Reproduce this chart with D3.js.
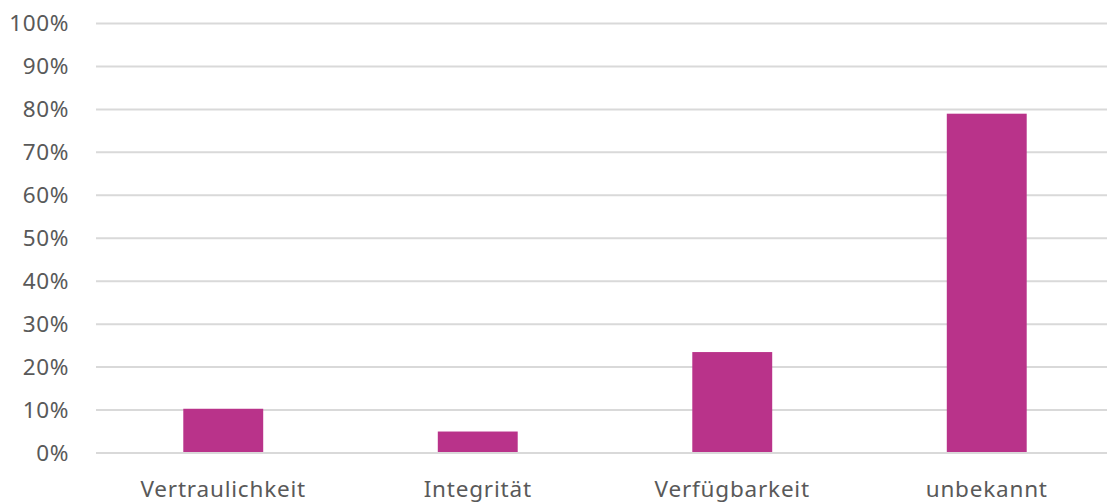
<!DOCTYPE html>
<html><head><meta charset="utf-8">
<script src="https://cdn.jsdelivr.net/npm/d3@7"></script>
<style>body{margin:0;background:#fff;overflow:hidden}</style>
</head><body><svg id="c" width="1107" height="502"></svg>
<script>
const categories = ["Vertraulichkeit", "Integrität", "Verfügbarkeit", "unbekannt"];
const values = [10.3, 5.0, 23.5, 79.0];
const yTicks = [0,10,20,30,40,50,60,70,80,90,100];

(function(){
const svg = d3.select("#c");
const mLeft = 96, mRight = 1114, mTop = 23.5, mBottom = 453;
const x = d3.scaleBand().domain(categories).range([mLeft, mRight]).paddingInner(0.686).paddingOuter(0.343);
const y = d3.scaleLinear().domain([0,100]).range([mBottom, mTop]);
const font = "'Noto Sans', sans-serif";

svg.append("g").selectAll("line").data(yTicks).join("line")
  .attr("x1", mLeft).attr("x2", mRight)
  .attr("y1", d => y(d)).attr("y2", d => y(d))
  .attr("stroke", "#d9d9d9").attr("stroke-width", 2);

svg.append("g").selectAll("text").data(yTicks).join("text")
  .attr("x", 69).attr("y", d => y(d) + 7.5)
  .attr("text-anchor", "end").attr("fill", "#595959")
  .style("font-family", font).style("font-size", "22.5px").style("letter-spacing", "0.6px")
  .text(d => d + "%");

svg.append("g").selectAll("rect").data(values).join("rect")
  .attr("x", (d,i) => x(categories[i])).attr("width", x.bandwidth())
  .attr("y", d => y(d)).attr("height", d => y(0) - y(d) - 1)
  .attr("fill", "#b9338a");

svg.append("g").selectAll("text").data(categories).join("text")
  .attr("x", d => x(d) + x.bandwidth()/2).attr("y", 497)
  .attr("text-anchor", "middle").attr("fill", "#595959")
  .style("font-family", font).style("font-size", "22.5px").style("letter-spacing", "0.8px")
  .text(d => d);
})();
</script></body></html>
